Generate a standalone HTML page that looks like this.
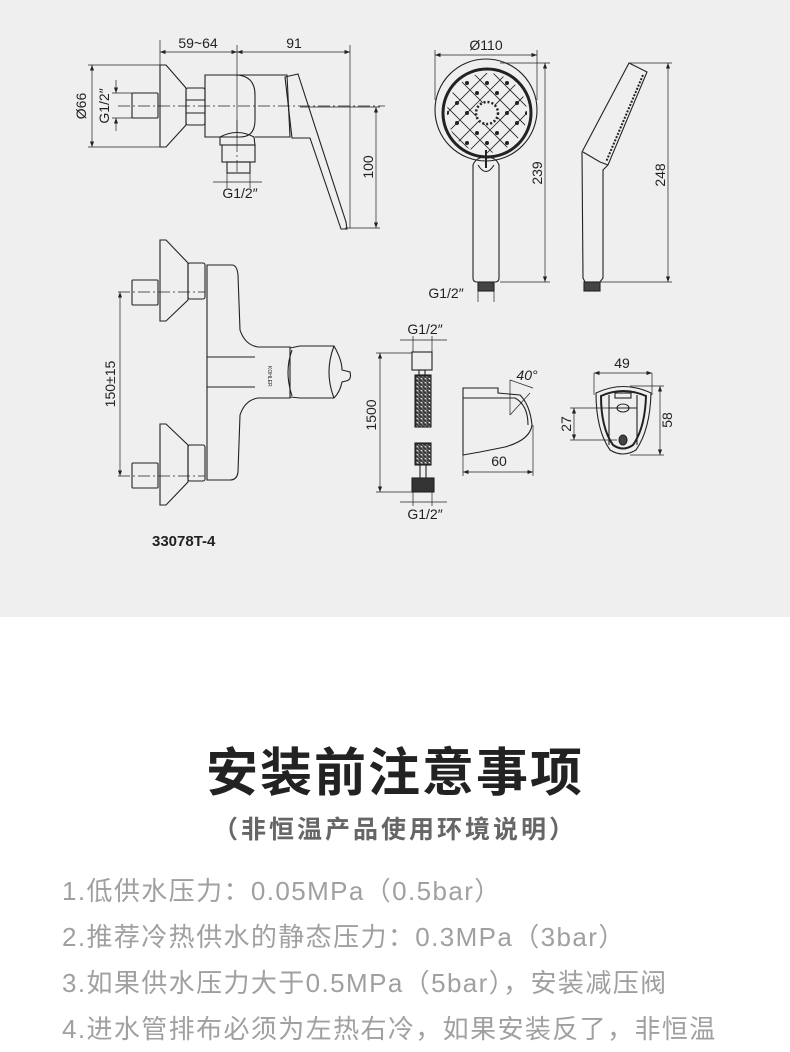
<!DOCTYPE html>
<html><head><meta charset="utf-8"><style>
html,body{margin:0;padding:0;background:#fff;}
body{width:790px;height:1052px;overflow:hidden;position:relative;font-family:"Liberation Sans","Noto Sans CJK SC",sans-serif;}
.top{position:absolute;left:0;top:0;width:790px;height:617px;background:#efefef;}
svg{position:absolute;left:0;top:0;}
.t{position:absolute;left:0;width:790px;text-align:center;}
.l{position:absolute;left:62px;font-size:26px;color:#a0a0a0;white-space:nowrap;letter-spacing:1.4px;}
</style></head><body>
<div class="top"></div>
<svg width="790" height="617" viewBox="0 0 790 617" font-family="Liberation Sans, sans-serif" font-size="14" fill="none" stroke="#222" stroke-width="1.1">
<defs><marker id="a" markerWidth="8" markerHeight="6" refX="8" refY="3" orient="auto-start-reverse"><path d="M0,0L8,3L0,6z" fill="#222" stroke="none"/></marker>
<clipPath id="hc"><circle cx="487" cy="113" r="40"/></clipPath>
<pattern id="coil" width="4" height="4" patternUnits="userSpaceOnUse"><rect width="4" height="4" fill="#efefef"/><line x1="0" y1="0" x2="4" y2="3" stroke="#333" stroke-width="1.3"/></pattern>
</defs>
<g stroke-width="0.7">
<line x1="160" y1="40" x2="160" y2="65"/><line x1="237" y1="45" x2="237" y2="140"/><line x1="350" y1="45" x2="350" y2="228"/>
<line x1="160" y1="52" x2="237" y2="52" marker-start="url(#a)" marker-end="url(#a)"/>
<line x1="237" y1="52" x2="350" y2="52" marker-start="url(#a)" marker-end="url(#a)"/>
<line x1="88" y1="65" x2="160" y2="65"/><line x1="88" y1="147" x2="160" y2="147"/>
<line x1="92" y1="65" x2="92" y2="147" marker-start="url(#a)" marker-end="url(#a)"/>
<line x1="112" y1="93" x2="132" y2="93"/><line x1="112" y1="118" x2="132" y2="118"/>
<line x1="116" y1="80" x2="116" y2="93" marker-end="url(#a)"/><line x1="116" y1="131" x2="116" y2="118" marker-end="url(#a)"/>
<line x1="300" y1="107" x2="380" y2="107"/><line x1="345" y1="228" x2="380" y2="228"/>
<line x1="376" y1="107" x2="376" y2="228" marker-start="url(#a)" marker-end="url(#a)"/>
<line x1="213" y1="182" x2="262" y2="182"/><line x1="227" y1="170" x2="227" y2="188"/><line x1="250" y1="170" x2="250" y2="188"/>
<line x1="118" y1="106" x2="385" y2="106" stroke-dasharray="12,3,2,3"/>
<line x1="237" y1="120" x2="237" y2="172" stroke-dasharray="12,3,2,3"/>
</g>
<g fill="#222" stroke="none">
<text x="198" y="48" text-anchor="middle">59~64</text><text x="294" y="48" text-anchor="middle">91</text>
<text x="240" y="198" text-anchor="middle">G1/2″</text>
<text transform="translate(86,106) rotate(-90)" text-anchor="middle">Ø66</text>
<text transform="translate(109,106) rotate(-90)" text-anchor="middle">G1/2″</text>
<text transform="translate(373,167) rotate(-90)" text-anchor="middle">100</text>
</g>
<rect x="132" y="93" width="26" height="25" rx="1"/>
<path d="M160,65 L166,65 L186,88 L186,125 L166,147 L160,147 Z"/>
<rect x="186" y="88" width="19" height="37" rx="2"/><line x1="186" y1="100" x2="205" y2="100"/><line x1="186" y1="113" x2="205" y2="113"/>
<path d="M205,75 L235,75 Q255,75 255,95 L255,120 Q255,137 240,137 L205,137 Z"/>
<path d="M235,75 L287,75 L290,137 L255,137"/>
<path d="M285,77 L298,74 L346,222 L347,229 L341,229 L310,138 L292,138 Z"/>
<path d="M220,137 Q237,128 254,137 L255,145 L220,145 Z"/>
<rect x="222" y="145" width="33" height="17"/><rect x="227" y="162" width="23" height="11"/>
<g stroke-width="0.7">
<line x1="118" y1="292" x2="205" y2="292" stroke-dasharray="12,3,2,3"/>
<line x1="118" y1="476" x2="205" y2="476" stroke-dasharray="12,3,2,3"/>
<line x1="120" y1="292" x2="120" y2="476" marker-start="url(#a)" marker-end="url(#a)"/>
</g>
<text transform="translate(115,384) rotate(-90)" text-anchor="middle" fill="#222" stroke="none">150±15</text>
<rect x="132" y="280" width="26" height="25" rx="1"/><path d="M160,240 L166,240 L188,263 L188,300 L166,321 L160,321 Z"/>
<rect x="188" y="263" width="17" height="36" rx="2"/>
<rect x="132" y="463" width="26" height="25" rx="1"/><path d="M160,424 L166,424 L188,445 L188,482 L166,505 L160,505 Z"/>
<rect x="188" y="445" width="17" height="36" rx="2"/>
<path d="M207,265 L232,265 Q237,265 238,275 L240,330 Q245,345 258,347 L290,347 L290,398 L258,398 Q245,400 240,415 L238,472 Q237,480 230,480 L207,480 Z"/>
<line x1="207" y1="357" x2="255" y2="357"/><line x1="207" y1="387" x2="255" y2="387"/>
<path d="M290,348 L300,346 L334,346 Q342,360 342,370 L350,372 Q352,380 346,381 L342,382 Q340,392 334,398 L300,398 L290,397"/>
<path d="M292,350 Q284,372 292,396"/><path d="M334,346 Q324,372 334,398"/>
<text x="268" y="366" font-size="5" fill="#222" stroke="none" transform="rotate(90,268,366)">KOHLER</text>
<text x="152" y="546" font-size="15" font-weight="bold" fill="#222" stroke="none">33078T-4</text>
<g stroke-width="0.7">
<line x1="435" y1="50" x2="435" y2="100"/><line x1="537" y1="50" x2="537" y2="100"/>
<line x1="435" y1="55" x2="537" y2="55" marker-start="url(#a)" marker-end="url(#a)"/>
<line x1="500" y1="63" x2="550" y2="63"/><line x1="500" y1="282" x2="550" y2="282"/>
<line x1="545" y1="63" x2="545" y2="282" marker-start="url(#a)" marker-end="url(#a)"/>
<line x1="630" y1="63" x2="672" y2="63"/><line x1="600" y1="282" x2="672" y2="282"/>
<line x1="668" y1="63" x2="668" y2="282" marker-start="url(#a)" marker-end="url(#a)"/>
<line x1="478" y1="290" x2="478" y2="302"/><line x1="494" y1="290" x2="494" y2="302"/>
</g>
<g fill="#222" stroke="none"><text x="486" y="50" text-anchor="middle">Ø110</text>
<text transform="translate(542,173) rotate(-90)" text-anchor="middle">239</text>
<text transform="translate(665,175) rotate(-90)" text-anchor="middle">248</text>
<text x="446" y="298" text-anchor="middle">G1/2″</text></g>
<circle cx="486" cy="110" r="51"/>
<circle cx="487" cy="113" r="44" stroke-width="3"/>
<g stroke-width="0.8" clip-path="url(#hc)">
<path d="M440,60 L540,160 M440,80 L540,180 M440,100 L520,180 M440,120 L500,180 M450,50 L540,140 M470,50 L540,120 M490,50 L540,100 M510,50 L540,80 M540,60 L440,160 M540,80 L440,180 M540,100 L460,180 M540,120 L480,180 M530,50 L440,140 M510,50 L440,120 M490,50 L440,100 M470,50 L440,80"/>
</g>
<g fill="#222" stroke="none" clip-path="url(#hc)">
<circle cx="467" cy="83" r="2"/><circle cx="487" cy="83" r="2"/><circle cx="507" cy="83" r="2"/>
<circle cx="457" cy="103" r="2"/><circle cx="517" cy="103" r="2"/><circle cx="457" cy="123" r="2"/><circle cx="517" cy="123" r="2"/>
<circle cx="467" cy="143" r="2"/><circle cx="487" cy="143" r="2"/><circle cx="507" cy="143" r="2"/>
<circle cx="477" cy="93" r="2"/><circle cx="497" cy="93" r="2"/><circle cx="477" cy="133" r="2"/><circle cx="497" cy="133" r="2"/>
<circle cx="467" cy="113" r="2"/><circle cx="507" cy="113" r="2"/><circle cx="447" cy="113" r="2"/><circle cx="527" cy="113" r="2"/>
</g>
<circle cx="487" cy="113" r="11" fill="#efefef" stroke-width="2.5" stroke-dasharray="2,2"/>
<path d="M473,165 Q476,157 486,157 Q496,157 499,165 L499,278 Q499,282 495,282 L477,282 Q473,282 473,278 Z"/>
<path d="M478,165 Q486,178 494,165"/><line x1="486" y1="150" x2="486" y2="168" stroke-width="2"/>
<rect x="478" y="282" width="16" height="9" fill="#444"/>
<path d="M629,63 L647,72 L608,165 L603,170 L603,278 L600,282 L585,282 L583,278 L582,152 Z"/>
<path d="M643,75 L606,162" stroke-dasharray="2,1.5" stroke-width="2"/>
<path d="M583,152 L600,162 L608,165"/>
<rect x="584" y="282" width="16" height="9" fill="#444"/>
<g stroke-width="0.7">
<line x1="400" y1="340" x2="447" y2="340"/><line x1="413" y1="336" x2="413" y2="352"/><line x1="432" y1="336" x2="432" y2="352"/>
<line x1="376" y1="353" x2="412" y2="353"/><line x1="376" y1="492" x2="412" y2="492"/>
<line x1="380" y1="353" x2="380" y2="492" marker-start="url(#a)" marker-end="url(#a)"/>
<line x1="400" y1="502" x2="447" y2="502"/><line x1="413" y1="492" x2="413" y2="506"/><line x1="432" y1="492" x2="432" y2="506"/>
</g>
<g fill="#222" stroke="none"><text x="425" y="334" text-anchor="middle">G1/2″</text><text x="425" y="519" text-anchor="middle">G1/2″</text>
<text transform="translate(376,415) rotate(-90)" text-anchor="middle">1500</text></g>
<rect x="412" y="352" width="20" height="18"/><rect x="419" y="370" width="6" height="5"/>
<rect x="415" y="375" width="16" height="52" fill="url(#coil)"/>
<rect x="415" y="443" width="16" height="22" fill="url(#coil)"/>
<line x1="420" y1="465" x2="420" y2="478"/><line x1="426" y1="465" x2="426" y2="478"/>
<rect x="412" y="478" width="22" height="14" fill="#333"/>
<path d="M463,388 L498,388 L498,393 L520,395 Q530,405 532,425 Q530,440 505,447 L480,452 L463,455 Z"/>
<path d="M463,398 L515,398 Q528,405 528,425"/>
<g stroke-width="0.7"><line x1="463" y1="455" x2="463" y2="476"/><line x1="533" y1="425" x2="533" y2="476"/>
<line x1="463" y1="472" x2="533" y2="472" marker-start="url(#a)" marker-end="url(#a)"/>
<line x1="510" y1="380" x2="510" y2="415"/><line x1="510" y1="380" x2="533" y2="388"/><line x1="510" y1="415" x2="530" y2="393"/></g>
<g fill="#222" stroke="none"><text x="499" y="466" text-anchor="middle">60</text><text x="527" y="380" text-anchor="middle" font-style="italic">40°</text>
<text x="622" y="368" text-anchor="middle">49</text>
<text transform="translate(571,424) rotate(-90)" text-anchor="middle">27</text>
<text transform="translate(672,420) rotate(-90)" text-anchor="middle">58</text></g>
<path d="M596,393 Q623,380 651,393 Q650,430 636,450 Q623,458 610,450 Q596,430 596,393 Z"/>
<path d="M601,396 Q623,386 646,396 Q645,428 633,445 Q623,452 613,445 Q601,428 601,396 Z" stroke-width="2"/>
<rect x="615" y="393" width="16" height="5"/><line x1="609" y1="395" x2="609" y2="445"/><line x1="637" y1="395" x2="637" y2="445"/>
<line x1="609" y1="408" x2="637" y2="408"/><ellipse cx="623" cy="408" rx="6" ry="4"/><ellipse cx="623" cy="440" rx="4" ry="5" fill="#444"/>
<g stroke-width="0.7"><line x1="594" y1="373" x2="594" y2="395"/><line x1="652" y1="373" x2="652" y2="395"/>
<line x1="594" y1="373" x2="652" y2="373" marker-start="url(#a)" marker-end="url(#a)"/>
<line x1="570" y1="408" x2="617" y2="408"/><line x1="570" y1="440" x2="617" y2="440"/>
<line x1="574" y1="408" x2="574" y2="440" marker-start="url(#a)" marker-end="url(#a)"/>
<line x1="630" y1="386" x2="664" y2="386"/><line x1="630" y1="455" x2="664" y2="455"/>
<line x1="660" y1="386" x2="660" y2="455" marker-start="url(#a)" marker-end="url(#a)"/></g>
</svg>
<div class="t" style="top:731px;font-size:52px;font-weight:bold;color:#222;letter-spacing:2px;">安装前注意事项</div>
<div class="t" style="top:810px;font-size:25px;font-weight:bold;color:#666;letter-spacing:3px;">（非恒温产品使用环境说明）</div>
<div class="l" style="top:871px;">1.低供水压力：0.05MPa（0.5bar）</div>
<div class="l" style="top:917px;">2.推荐冷热供水的静态压力：0.3MPa（3bar）</div>
<div class="l" style="top:963px;">3.如果供水压力大于0.5MPa（5bar），安装减压阀</div>
<div class="l" style="top:1009px;">4.进水管排布必须为左热右冷，如果安装反了，非恒温</div>
</body></html>
